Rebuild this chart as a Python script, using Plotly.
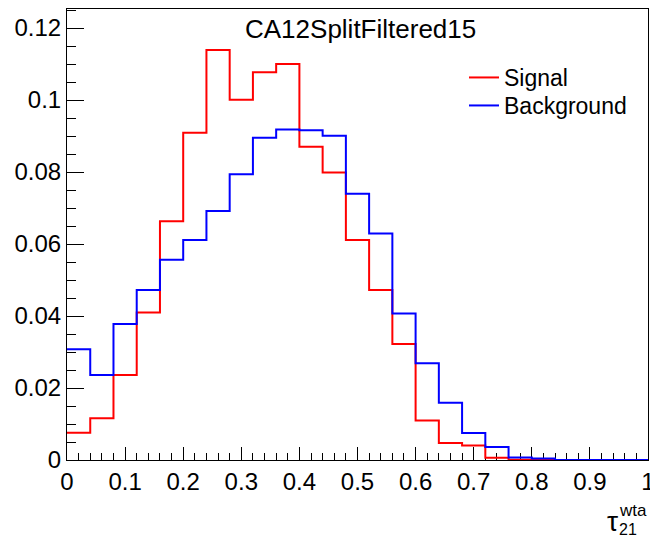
import plotly.graph_objects as go

# Normalised tau21 (wta) distributions, 25 bins on [0, 1]
bin_edges = [round(i * 0.04, 2) for i in range(26)]

signal = [0.0076, 0.0116, 0.0236, 0.0410, 0.0663, 0.0909, 0.1139, 0.1001,
          0.1077, 0.1100, 0.0870, 0.0799, 0.0611, 0.0472, 0.0322, 0.0110,
          0.0047, 0.0040, 0.0006, 0.0001, 0.0001, 0.0, 0.0, 0.0, 0.0]

background = [0.0308, 0.0236, 0.0378, 0.0472, 0.0556, 0.0611, 0.0692, 0.0794,
              0.0895, 0.0918, 0.0916, 0.0901, 0.0740, 0.0629, 0.0407, 0.0269,
              0.0159, 0.0075, 0.0036, 0.0007, 0.0004, 0.0, 0.0, 0.0, 0.0]

title_text = "CA12SplitFiltered15"
series_names = ["Signal", "Background"]
series_colors = ["#ff0000", "#0000ff"]

W, H = 650, 538
ML, MR, MT, MB = 67, 2, 9, 78
FONT = "Liberation Sans, Arial, Helvetica, sans-serif"

y_max = 1.1 * max(signal)


def px_to_paper_x(px):
    return (px - ML) / (W - ML - MR)


def px_to_paper_y(py):
    return (H - MB - py) / (H - MT - MB)


fig = go.Figure()
legend_ids = ["legend", "legend2"]
for name, vals, col, lg in zip(series_names, [signal, background], series_colors, legend_ids):
    fig.add_trace(go.Scatter(
        x=bin_edges,
        y=list(vals) + [vals[-1]],
        mode="lines",
        line=dict(shape="hv", color=col, width=2),
        name=name,
        legend=lg,
        cliponaxis=False,
    ))

axis_common = dict(
    showgrid=False, zeroline=False,
    showline=True, linecolor="black", linewidth=1, mirror=True,
    ticks="inside", tickcolor="black", tickwidth=1,
    tickfont=dict(family=FONT, size=24, color="black"),
    layer="below traces",
    ticklabeloverflow="allow",
    automargin=False,
)

fig.update_xaxes(
    range=[0, 1], dtick=0.1, tick0=0, ticklen=13,
    minor=dict(dtick=0.02, ticks="inside", ticklen=7, tickcolor="black", tickwidth=1),
    **axis_common,
)
fig.update_yaxes(
    range=[0, y_max], dtick=0.02, tick0=0, ticklen=17,
    minor=dict(dtick=0.005, ticks="inside", ticklen=9, tickcolor="black", tickwidth=1),
    **axis_common,
)

annotations = [
    dict(text=title_text, x=px_to_paper_x(360), y=px_to_paper_y(29),
         xanchor="center", yanchor="middle", showarrow=False,
         font=dict(family=FONT, size=26, color="black")),
    dict(text="τ", x=px_to_paper_x(620), y=px_to_paper_y(521),
         xanchor="right", yanchor="middle", showarrow=False,
         font=dict(family=FONT, size=28, color="black")),
    dict(text="wta", x=px_to_paper_x(618), y=px_to_paper_y(521),
         xanchor="left", yanchor="bottom", showarrow=False, borderpad=0,
         font=dict(family=FONT, size=17, color="black")),
    dict(text="21", x=px_to_paper_x(618), y=px_to_paper_y(520),
         xanchor="left", yanchor="top", showarrow=False, borderpad=0,
         font=dict(family=FONT, size=16, color="black")),
]
for a in annotations:
    a.update(xref="paper", yref="paper")

legend_common = dict(
    xanchor="left", yanchor="top",
    bgcolor="rgba(0,0,0,0)", borderwidth=0,
    font=dict(family=FONT, size=23, color="black"),
    itemwidth=30,
)

fig.update_layout(
    width=W, height=H,
    margin=dict(l=ML, r=MR, t=MT, b=MB, pad=0, autoexpand=False),
    paper_bgcolor="white", plot_bgcolor="white",
    showlegend=True,
    legend=dict(x=px_to_paper_x(464), y=px_to_paper_y(56), **legend_common),
    legend2=dict(x=px_to_paper_x(464), y=px_to_paper_y(84), **legend_common),
    annotations=annotations,
)

fig.write_html("out.html")
